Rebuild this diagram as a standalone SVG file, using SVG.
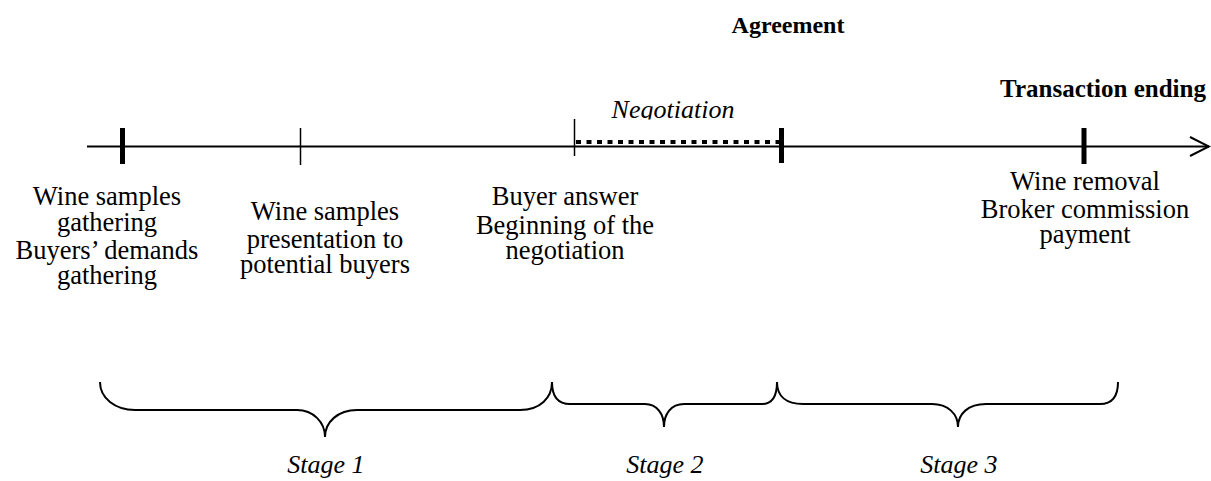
<svg xmlns="http://www.w3.org/2000/svg" width="1211" height="481" viewBox="0 0 1211 481">
<defs>
<style>
text{font-family:'Liberation Serif','Times New Roman',Times,serif;font-size:26.5px;fill:#000;text-anchor:middle}
.b{font-weight:bold;font-size:25px}
.i{font-style:italic;font-size:26px}
.ln{stroke:#000;fill:none}
</style>
<clipPath id="negclip"><rect x="560" y="80" width="200" height="39.5"/></clipPath>
</defs>
<rect width="1211" height="481" fill="#fff"/>
<g id="connectors">
<line class="ln" x1="87" y1="146.5" x2="1209" y2="146.5" stroke-width="2"/>
<polyline class="ln" points="1190,137 1209,146.5 1190,156" stroke-width="2"/>
<line class="ln" x1="576" y1="142" x2="780" y2="142" stroke-width="4" stroke-dasharray="5,5.5"/>
<path class="ln" stroke-width="2" d="M100,382 C100,398 115,410 135,410 L297,410 C313,410 325,422 325,437 C325,422 338,410 357,410 L520,410 C540,410 552,398 552,382"/>
<path class="ln" stroke-width="2" d="M552,382 C552,396 558,404 570,404 L645,404 C657,404 664,414 664,427 C664,414 671,404 684,404 L762,404 C772,404 777,396 777,382"/>
<path class="ln" stroke-width="2" d="M777,382 C777,396 786,404 803,404 L932,404 C948,404 958,414 958,427 C958,414 968,404 986,404 L1100,404 C1112,404 1118,396 1118,382"/>
</g>
<g id="tick1"><line class="ln" x1="122.5" y1="128" x2="122.5" y2="164" stroke-width="5"/></g>
<g id="tick2"><line class="ln" x1="300.5" y1="128" x2="300.5" y2="165" stroke-width="1.5"/></g>
<g id="tick3"><line class="ln" x1="574.5" y1="119" x2="574.5" y2="156" stroke-width="1.5"/></g>
<g id="tick4"><line class="ln" x1="781.5" y1="128" x2="781.5" y2="163" stroke-width="5"/></g>
<g id="tick5"><line class="ln" x1="1084" y1="128" x2="1084" y2="164" stroke-width="5"/></g>
<g id="agreement"><text class="b" x="788" y="33" style="font-size:24px">Agreement</text></g>
<g id="transaction-ending"><text class="b" x="1103" y="97">Transaction ending</text></g>
<g id="negotiation"><text class="i" x="673" y="118" clip-path="url(#negclip)">Negotiation</text></g>
<g id="label1">
<text x="107" y="205">Wine samples</text>
<text x="107" y="231">gathering</text>
<text x="107" y="259">Buyers’ demands</text>
<text x="107" y="284">gathering</text>
</g>
<g id="label2">
<text x="325" y="220">Wine samples</text>
<text x="325" y="248">presentation to</text>
<text x="325" y="273">potential buyers</text>
</g>
<g id="label3">
<text x="565" y="205">Buyer answer</text>
<text x="565" y="234">Beginning of the</text>
<text x="565" y="259">negotiation</text>
</g>
<g id="label4">
<text x="1085" y="190">Wine removal</text>
<text x="1085" y="218">Broker commission</text>
<text x="1085" y="243">payment</text>
</g>
<g id="stage1"><text class="i" x="326" y="473">Stage 1</text></g>
<g id="stage2"><text class="i" x="665" y="473">Stage 2</text></g>
<g id="stage3"><text class="i" x="959" y="473">Stage 3</text></g>
</svg>
